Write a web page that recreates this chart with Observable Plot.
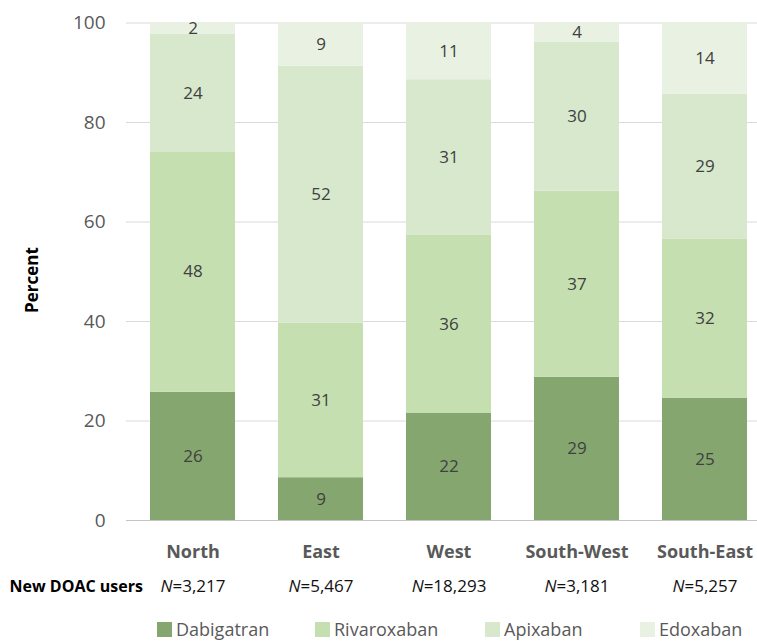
<!DOCTYPE html>
<html><head><meta charset="utf-8">
<script src="https://cdn.jsdelivr.net/npm/d3@7"></script>
<script src="https://cdn.jsdelivr.net/npm/@observablehq/plot@0.6"></script>
<style>
body{margin:0;background:#fff;font-family:"Open Sans",sans-serif}
#chart{position:relative;width:757px;height:641px;overflow:hidden}
.leg{position:absolute;top:618px;height:22px;display:flex;align-items:center;font-size:18px;line-height:22px;color:#595959;white-space:nowrap}
.leg span.sw{display:inline-block;width:15px;height:15px;margin-right:4px}
.ylab{position:absolute;left:31px;top:280px;transform:translate(-50%,-50%) rotate(-90deg);font-weight:bold;font-size:17px;color:#000;white-space:nowrap}
</style>
</head><body><div id="chart"></div>
<script>
const regions = ["North", "East", "West", "South-West", "South-East"];
const nLabels = ["3,217", "5,467", "18,293", "3,181", "5,257"];
const drugs = ["Dabigatran", "Rivaroxaban", "Apixaban", "Edoxaban"];
const dabigatran = [25.8, 8.6, 21.6, 28.8, 24.6];
const rivaroxaban = [48.3, 31.1, 35.7, 37.4, 32.0];
const apixaban = [23.6, 51.6, 31.3, 29.9, 29.1];
const edoxaban = [2.3, 8.7, 11.4, 3.9, 14.4];
const yTicks = [0, 20, 40, 60, 80, 100];
const colors = ["#85a66f", "#c5dfb1", "#d7e8cd", "#e9f2e2"];
const legendLeft = [157, 315, 485, 640];

const series = [dabigatran, rivaroxaban, apixaban, edoxaban];
const data = drugs.flatMap((drug, j) => regions.map((region, i) => ({region, drug, value: series[j][i]})));

const plot = Plot.plot({
  width: 757, height: 610,
  marginTop: 22.5, marginBottom: 90, marginLeft: 126, marginRight: 0,
  style: {fontFamily: '"Open Sans", sans-serif', background: "white", overflow: "visible"},
  x: {type: "band", domain: regions, range: [126, 770], paddingInner: 0.336, paddingOuter: 0.168, label: null},
  y: {domain: [0, 100], label: null},
  color: {domain: drugs, range: colors},
  marks: [
    Plot.ruleY(yTicks.filter(t => t > 0), {y: d => d, stroke: "#dadada", strokeWidth: 1}),
    Plot.ruleY([0], {y: d => d, stroke: "#c4c4c4", strokeWidth: 1.2}),
    Plot.barY(data, {x: "region", y: "value", fill: "drug", z: "drug"}),
    Plot.text(data, Plot.stackY({x: "region", y: "value", z: "drug", text: d => String(Math.round(d.value)), fill: "#404040", fontSize: 17})),
    Plot.axisY(yTicks, {tickSize: 0, tickPadding: 21, fontSize: 19, color: "#595959", label: null}),
    Plot.axisX({tickSize: 0, tickPadding: 25, fontSize: 18, fontWeight: "bold", color: "#595959", label: null}),
    Plot.text(regions, {x: d => d, text: (d, i) => "N=" + nLabels[i], frameAnchor: "bottom", dy: 71, fontSize: 17, fill: "#111"}),
    Plot.text(["New DOAC users"], {text: d => d, frameAnchor: "bottom-left", dx: -117, dy: 71, textAnchor: "start", fontWeight: "bold", fontSize: 16, fill: "#000"})
  ]
});

d3.select(plot).selectAll("text").each(function() {
  const s = this.textContent;
  if (this.children.length === 0 && s.startsWith("N=")) {
    this.textContent = "";
    d3.select(this).append("tspan").attr("font-style", "italic").text("N");
    d3.select(this).append("tspan").text(s.slice(1));
  }
});

const chart = document.getElementById("chart");
chart.appendChild(plot);
const ylab = document.createElement("div");
ylab.className = "ylab";
ylab.textContent = "Percent";
chart.appendChild(ylab);
drugs.forEach((d, i) => {
  const item = document.createElement("div");
  item.className = "leg";
  item.style.left = legendLeft[i] + "px";
  const sw = document.createElement("span");
  sw.className = "sw";
  sw.style.background = colors[i];
  item.appendChild(sw);
  item.appendChild(document.createTextNode(d));
  chart.appendChild(item);
});
</script>
</body></html>
